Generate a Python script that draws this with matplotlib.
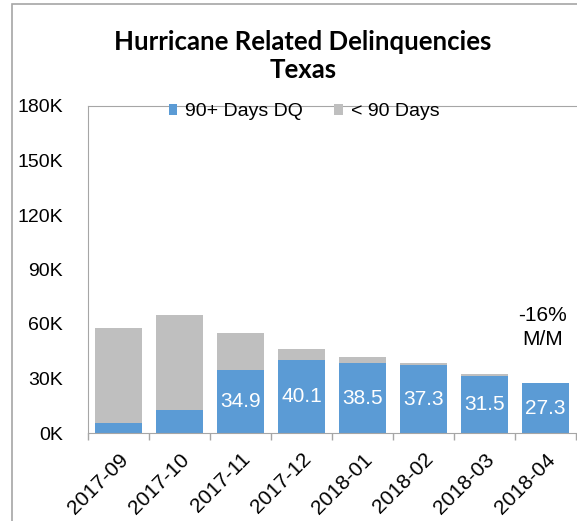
import numpy as np
import matplotlib.pyplot as plt
from matplotlib.patches import Rectangle

months = ["2017-09", "2017-10", "2017-11", "2017-12", "2018-01", "2018-02", "2018-03", "2018-04"]
dq90 = [5.3, 12.6, 34.9, 40.1, 38.5, 37.3, 31.5, 27.3]        # thousands
under90 = [52.7, 52.5, 20.1, 6.3, 3.6, 1.3, 1.0, 0.0]       # thousands
labels = ["", "", "34.9", "40.1", "38.5", "37.3", "31.5", "27.3"]
yticks = [0, 30, 60, 90, 120, 150, 180]

blue = "#5B9BD5"
gray = "#BFBFBF"
plt.rcParams["font.family"] = ["Liberation Sans", "DejaVu Sans"]

fig = plt.figure(figsize=(5.77, 5.21), dpi=100)
W, H = 577, 521
ax = fig.add_axes([88 / W, 1 - 433 / H, (576 - 88) / W, (433 - 106) / H])

# outer frame
fig.patches.append(Rectangle((12 / W, -0.1), 1.2, 1 - 4 / H + 0.1, transform=fig.transFigure,
                             fill=False, edgecolor="#A6A6A6", linewidth=1.2))

x = np.arange(len(months))
b1 = ax.bar(x, dq90, width=0.78, color=blue, label="90+ Days DQ")
ax.bar(x, under90, width=0.78, bottom=dq90, color=gray, label="< 90 Days")
ax.bar_label(b1, labels=labels, label_type="center", color="white", fontsize=15)

ax.set_xlim(-0.5, len(months) - 0.5)
ax.set_ylim(0, 180)
ax.set_yticks(yticks)
ax.set_yticklabels([f"{v}K" for v in yticks], fontsize=14)
ax.tick_params(axis="y", length=0, pad=18)

ax.set_xticks(x)
ax.set_xticklabels(months, rotation=45, ha="right", rotation_mode="anchor", fontsize=15)
ax.tick_params(axis="x", which="major", length=0, pad=12)
ax.set_xticks(np.arange(len(months) + 1) - 0.5, minor=True)
ax.tick_params(axis="x", which="minor", length=5, color="#A6A6A6", width=1)

for s in ["left", "bottom", "top"]:
    ax.spines[s].set_color("#A6A6A6")
ax.spines["right"].set_visible(False)

ax.text(6.95, 58, "-16%\nM/M", ha="center", va="center", fontsize=15, linespacing=1.3)

fig.legend(loc="center", bbox_to_anchor=(304 / W, 1 - 112 / H), ncol=2, frameon=False,
           fontsize=14, handlelength=0.45, handleheight=0.45, handletextpad=0.4,
           columnspacing=1.6, borderpad=0)

fig.text(303 / W, 1 - 50 / H, "Hurricane Related Delinquencies", ha="center", va="baseline",
         fontsize=18.5, fontweight="bold", family=["Lato", "DejaVu Sans"])
fig.text(303 / W, 1 - 78 / H, "Texas", ha="center", va="baseline",
         fontsize=18.5, fontweight="bold", family=["Lato", "DejaVu Sans"])

fig.savefig("out.png", dpi=100)
